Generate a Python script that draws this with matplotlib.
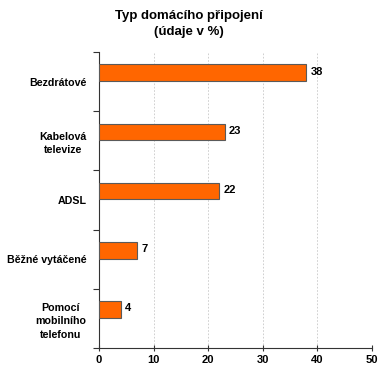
import numpy as np
import matplotlib
matplotlib.use("Agg")
import matplotlib.pyplot as plt

categories = ["Bezdrátové", "Kabelová\ntelevize", "ADSL", "Běžné vytáčené", "Pomocí\nmobilního\ntelefonu"]
values = [38, 23, 22, 7, 4]
x_ticks = [0, 10, 20, 30, 40, 50]

plt.rcParams["font.family"] = ["Liberation Sans", "DejaVu Sans"]
plt.rcParams["font.weight"] = "bold"

fig = plt.figure(figsize=(3.88, 3.73), dpi=100)
ax = fig.add_axes([99 / 388, 1 - 348 / 373, (372 - 99) / 388, (348 - 52) / 373])

pos = np.arange(len(categories))
# bars sit a bit above the middle of each band, like the original
ax.barh(pos - 0.15, values, height=0.28, color="#FF6600", edgecolor="#5a5a5a", linewidth=0.8, zorder=3)

for p, v in zip(pos, values):
    ax.text(v + 0.8, p - 0.17, str(v), va="center", ha="left", fontsize=8, fontweight="bold")

ax.set_ylim(len(categories) - 0.5, -0.5)
ax.set_xlim(0, 50)
ax.set_xticks(x_ticks)
ax.set_xticklabels([str(t) for t in x_ticks], fontsize=8, fontweight="bold")
ax.set_yticks(pos)
ax.set_yticklabels(categories, fontsize=7.7, fontweight="bold", multialignment="center", linespacing=1.45)
ax.tick_params(axis="y", length=0, pad=9)
ax.set_yticks(np.arange(len(categories) + 1) - 0.5, minor=True)
ax.tick_params(axis="y", which="minor", length=4, width=0.8, color="#333333", direction="out")
ax.tick_params(axis="x", length=4, width=0.8, color="#333333", direction="inout", pad=3)

ax.grid(axis="x", color="#c8c8c8", linestyle=(0, (2, 2)), linewidth=0.6, zorder=0)
for s in ["top", "right"]:
    ax.spines[s].set_visible(False)
for s in ["left", "bottom"]:
    ax.spines[s].set_color("#333333")
    ax.spines[s].set_linewidth(0.8)

fig.text(189 / 388, 1 - 24 / 373, "Typ domácího připojení\n(údaje v %)", ha="center", va="center",
         fontsize=9.5, fontweight="bold", linespacing=1.35)

fig.savefig("out.png", dpi=100)
